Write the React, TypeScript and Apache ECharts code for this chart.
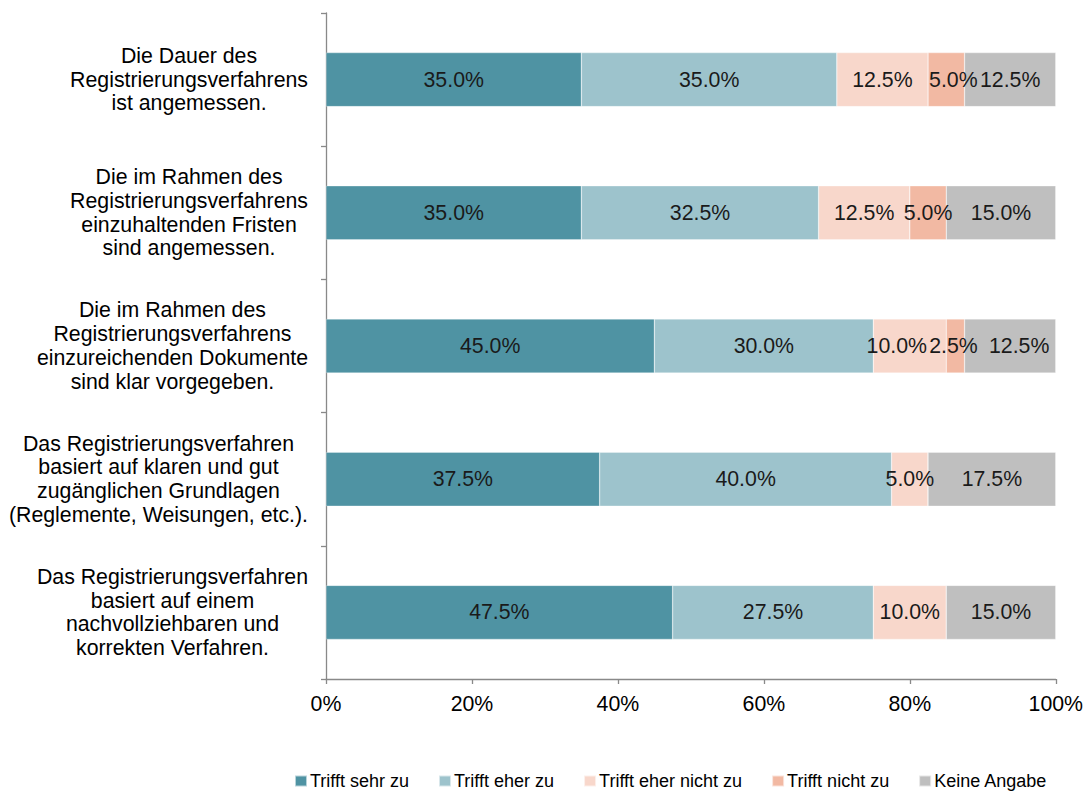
import React, { useEffect, useRef } from "react";
import * as echarts from "echarts";

const categories = [
  "Die Dauer des\nRegistrierungsverfahrens\nist angemessen.",
  "Die im Rahmen des\nRegistrierungsverfahrens\neinzuhaltenden Fristen\nsind angemessen.",
  "Die im Rahmen des\nRegistrierungsverfahrens\neinzureichenden Dokumente\nsind klar vorgegeben.",
  "Das Registrierungsverfahren\nbasiert auf klaren und gut\nzugänglichen Grundlagen\n(Reglemente, Weisungen, etc.).",
  "Das Registrierungsverfahren\nbasiert auf einem\nnachvollziehbaren und\nkorrekten Verfahren.",
];

const seriesNames = [
  "Trifft sehr zu",
  "Trifft eher zu",
  "Trifft eher nicht zu",
  "Trifft nicht zu",
  "Keine Angabe",
];

const trifftSehrZu = [35.0, 35.0, 45.0, 37.5, 47.5];
const trifftEherZu = [35.0, 32.5, 30.0, 40.0, 27.5];
const trifftEherNichtZu = [12.5, 12.5, 10.0, 5.0, 10.0];
const trifftNichtZu = [5.0, 5.0, 2.5, 0, 0];
const keineAngabe = [12.5, 15.0, 12.5, 17.5, 15.0];

const xTicks = [0, 20, 40, 60, 80, 100];

const colors = ["#4f93a3", "#9dc3cc", "#f8d7cb", "#f2b9a3", "#bfbfbf"];

// label nudges (styling only): "seriesIndex-categoryIndex" -> horizontal px shift
const labelNudges: Record<string, number> = {
  "3-0": 7,
  "2-2": -13,
  "3-2": -2,
  "4-2": 9,
};

const FONT = "'Liberation Sans', Arial, sans-serif";
const FS = 21.3;

export default function App() {
  const ref = useRef<HTMLDivElement>(null);
  useEffect(() => {
    if (!ref.current) return;
    const chart = echarts.init(ref.current, undefined, { renderer: "svg" });
    const values = [trifftSehrZu, trifftEherZu, trifftEherNichtZu, trifftNichtZu, keineAngabe];
    chart.setOption({
      animation: false,
      textStyle: { fontFamily: FONT },
      grid: { left: 326, right: 29, top: 13, bottom: 114, containLabel: false },
      legend: {
        left: 289,
        top: 767,
        itemWidth: 12,
        itemHeight: 11,
        itemGap: 29,
        icon: "rect",
        textStyle: {
          fontSize: 18,
          color: "#000",
          fontFamily: FONT,
          padding: [0, 0, 0, -2],
        },
        data: seriesNames,
      },
      xAxis: {
        type: "value",
        min: xTicks[0],
        max: xTicks[xTicks.length - 1],
        interval: 20,
        axisLine: { show: true, lineStyle: { color: "#898989", width: 1.3 } },
        axisTick: { show: true, inside: false, length: 5, lineStyle: { color: "#898989", width: 1.3 } },
        splitLine: { show: false },
        axisLabel: {
          formatter: (v: number) => `${v}%`,
          fontSize: FS,
          color: "#000",
          margin: 14,
        },
      },
      yAxis: {
        type: "category",
        inverse: true,
        data: categories,
        axisLine: { show: true, lineStyle: { color: "#898989", width: 1.3 } },
        axisTick: { show: true, length: 5, lineStyle: { color: "#898989", width: 1.3 } },
        axisLabel: {
          margin: 18,
          align: "right",
          formatter: (v: string) =>
            v
              .split("\n")
              .map((l) => `{c|${l}}`)
              .join("\n"),
          rich: {
            c: {
              align: "center",
              fontSize: FS,
              lineHeight: 23.7,
              color: "#000",
              fontFamily: FONT,
            },
          },
        },
      },
      series: seriesNames.map((name, i) => ({
        name,
        type: "bar",
        stack: "total",
        barWidth: 54,
        itemStyle: { color: colors[i], borderColor: "rgba(255,255,255,0.6)", borderWidth: 0.5 },
        label: {
          show: true,
          position: "inside",
          fontSize: FS,
          color: "#1a1a1a",
          fontFamily: FONT,
          formatter: (p: any) => (p.value > 0 ? `${Number(p.value).toFixed(1)}%` : ""),
        },
        data: values[i].map((v, j) => {
          const nudge = labelNudges[`${i}-${j}`];
          return nudge ? { value: v, label: { offset: [nudge, 0] } } : v;
        }),
      })),
    });
    return () => chart.dispose();
  }, []);
  return <div ref={ref} style={{ width: 1086, height: 793, position: "absolute", left: 0, top: 0 }} />;
}
